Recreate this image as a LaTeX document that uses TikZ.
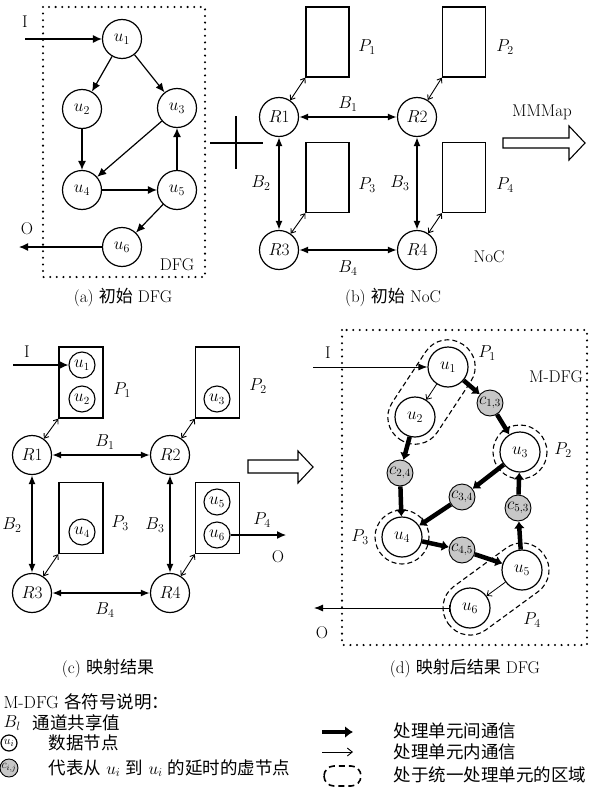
\documentclass[tikz,border=0pt]{standalone}
\usepackage{fontspec}
\newfontfamily\cjk{Noto Sans CJK SC}
\usetikzlibrary{arrows.meta,calc}
\begin{document}
\begin{tikzpicture}[x=1pt,y=-1pt,
  every node/.style={font=\fontsize{17}{19}\selectfont},
  big/.style={circle,draw,line width=1.2pt,minimum size=39pt,inner sep=0pt,font=\fontsize{18}{19}\selectfont},
  small/.style={circle,draw,line width=1.1pt,minimum size=26pt,inner sep=0pt,font=\fontsize{16}{17}\selectfont},
  vnode/.style={circle,draw,line width=0.9pt,fill=black!22,minimum size=26pt,inner sep=0pt,font=\fontsize{16}{17}\selectfont},
  pbox/.style={draw,line width=1.3pt,inner sep=0pt},
  farr/.style={line width=1.2pt,-{Latex[length=9pt,width=8pt]}},
  link/.style={line width=1.6pt,{Latex[length=9pt,width=7pt]}-{Latex[length=9pt,width=7pt]}},
  plink/.style={line width=0.9pt,{Straight Barb[length=4pt,width=6pt]}-{Straight Barb[length=4pt,width=6pt]}},
  dotbox/.style={line width=2.3pt,dash pattern=on 0pt off 6.6pt,line cap=round},
  bigarr/.style={line width=4.5pt,-{Latex[length=7pt,width=11pt]}},
  thinarr/.style={line width=0.8pt,-{Straight Barb[length=4pt,width=7pt]}},
  region/.style={line width=1.1pt,dash pattern=on 5pt off 3pt},
  hollow/.style={line width=1.1pt,fill=white},
  captext/.style={font=\fontsize{17}{19}\selectfont},
  leg/.style={anchor=west,font=\fontsize{17.5}{19}\selectfont}
]
\useasboundingbox (0,0) rectangle (604,792);
\fill[white] (0,0) rectangle (604,792);

% ---------------- (a) DFG
\draw[dotbox] (43,7) rectangle (205,277);
\node[big] (a1) at (122,39) {$u_1$};
\node[big] (a2) at (82,109) {$u_2$};
\node[big] (a3) at (177,108) {$u_3$};
\node[big] (a4) at (82,190) {$u_4$};
\node[big] (a5) at (177,190) {$u_5$};
\node[big] (a6) at (122,247) {$u_6$};
\coordinate (aI) at (25,39);
\coordinate (aO) at (19,247);
\node (aIl) at (25,22) {I};
\node (aOl) at (27,229) {O};
\node (aDFG) at (177,265) {DFG};
\draw[farr] (aI) -- (a1);
\draw[farr] (a1) -- (a2);
\draw[farr] (a1) -- (a3);
\draw[farr] (a2) -- (a4);
\draw[farr] (a3) -- (a4);
\draw[farr] (a4) -- (a5);
\draw[farr] (a5) -- (a3);
\draw[farr] (a5) -- (a6);
\draw[farr] (a6) -- (aO);
\node[captext] (capa) at (123,297) {(a) {\cjk 初始} DFG};

% cross
\coordinate (xl) at (210,143); \coordinate (xr) at (263,143);
\coordinate (xt) at (236,116); \coordinate (xb) at (236,169);
\draw[line width=1.3pt] (xl) -- (xr) (xt) -- (xb);

% ---------------- (b) NoC
\node[pbox,minimum width=43pt,minimum height=70pt] (bP1) at (327.5,42) {};
\node[pbox,minimum width=43pt,minimum height=70pt] (bP2) at (464,42) {};
\node[pbox,minimum width=43pt,minimum height=70pt] (bP3) at (327.5,177.5) {};
\node[pbox,minimum width=43pt,minimum height=70pt] (bP4) at (464,177.5) {};
\node[big] (bR1) at (279,117) {$R1$};
\node[big] (bR2) at (417,117) {$R2$};
\node[big] (bR3) at (279,250) {$R3$};
\node[big] (bR4) at (417,250) {$R4$};
\draw[link] (bR1) -- (bR2);
\draw[link] (bR1) -- (bR3);
\draw[link] (bR2) -- (bR4);
\draw[link] (bR3) -- (bR4);
\draw[plink] (bP1.south west) -- (bR1);
\draw[plink] (bP2.south west) -- (bR2);
\draw[plink] (bP3.south west) -- (bR3);
\draw[plink] (bP4.south west) -- (bR4);
\node (bl1) at (367,47) {$P_1$};
\node (bl2) at (505,47) {$P_2$};
\node (bl3) at (367,185) {$P_3$};
\node (bl4) at (505,185) {$P_4$};
\node (bB1) at (348,104) {$B_1$};
\node (bB2) at (261,183) {$B_2$};
\node (bB3) at (400,183) {$B_3$};
\node (bB4) at (348,268) {$B_4$};
\node (bNoC) at (489,257) {NoC};
\node (bMM) at (542,112) {MMMap};
\draw[hollow] (503,138) -- (569,138) -- (569,126) -- (585,143) -- (569,160) -- (569,148) -- (503,148) -- cycle;
\node[captext] (capb) at (393,297) {(b) {\cjk 初始} NoC};

% ---------------- (c) mapping
\node[pbox,minimum width=44pt,minimum height=71pt] (cP1) at (81,382.5) {};
\node[pbox,minimum width=44pt,minimum height=71pt] (cP2) at (217.5,382.5) {};
\node[pbox,minimum width=44pt,minimum height=71pt] (cP3) at (81,518) {};
\node[pbox,minimum width=44pt,minimum height=71pt] (cP4) at (217.5,518) {};
\node[small] (cu1) at (82,365) {$u_1$};
\node[small] (cu2) at (82,399) {$u_2$};
\node[small] (cu3) at (217,399) {$u_3$};
\node[small] (cu4) at (82,532) {$u_4$};
\node[small] (cu5) at (217,502) {$u_5$};
\node[small] (cu6) at (217,535) {$u_6$};
\node[big] (cR1) at (32,455) {$R1$};
\node[big] (cR2) at (170,455) {$R2$};
\node[big] (cR3) at (32,593) {$R3$};
\node[big] (cR4) at (170,593) {$R4$};
\draw[link] (cR1) -- (cR2);
\draw[link] (cR1) -- (cR3);
\draw[link] (cR2) -- (cR4);
\draw[link] (cR3) -- (cR4);
\draw[plink] (cP1.south west) -- (cR1);
\draw[plink] (cP2.south west) -- (cR2);
\draw[plink] (cP3.south west) -- (cR3);
\draw[plink] (cP4.south west) -- (cR4);
\coordinate (cI) at (13,365);
\coordinate (cO) at (286,535);
\draw[farr] (cI) -- (cu1);
\draw[farr] (cu6) -- (cO);
\node (cIl) at (27,352) {I};
\node (cOl) at (278,557) {O};
\node (cl1) at (122,390) {$P_1$};
\node (cl2) at (258,386) {$P_2$};
\node (cl3) at (120,523) {$P_3$};
\node (cl4) at (262,520) {$P_4$};
\node (cB1) at (105,442) {$B_1$};
\node (cB2) at (12,525) {$B_2$};
\node (cB3) at (155,525) {$B_3$};
\node (cB4) at (105,610) {$B_4$};
\draw[hollow] (248,460) -- (298,460) -- (298,451) -- (313,467) -- (298,483) -- (298,473) -- (248,473) -- cycle;
\node[captext] (capc) at (108,668) {(c) {\cjk 映射结果}};

% ---------------- (d) M-DFG
\draw[dotbox] (342,330) rectangle (587,645);
\begin{scope}[shift={(431.5,392)},rotate=56.6]
  \draw[region,rounded corners=26.5pt] (-57,-27) rectangle (57,27);
\end{scope}
\begin{scope}[shift={(496,589)},rotate=36.2]
  \draw[region,rounded corners=26.5pt] (-59,-27) rectangle (59,27);
\end{scope}
\node[big,minimum size=40pt] (du1) at (448,367) {$u_1$};
\node[big,minimum size=40pt] (du2) at (415,417) {$u_2$};
\node[big,minimum size=40pt] (du3) at (520,452) {$u_3$};
\node[big,minimum size=40pt] (du4) at (402,537) {$u_4$};
\node[big,minimum size=40pt] (du5) at (522,570) {$u_5$};
\node[big,minimum size=40pt] (du6) at (470,608) {$u_6$};
\draw[region] (du3.center) circle[radius=27];
\draw[region] (du4.center) circle[radius=27];
\node[vnode] (c13) at (490,403) {$c_{1,3}$};
\node[vnode] (c24) at (400,473) {$c_{2,4}$};
\node[vnode] (c34) at (462,497) {$c_{3,4}$};
\node[vnode] (c53) at (518,508) {$c_{5,3}$};
\node[vnode] (c45) at (462,550) {$c_{4,5}$};
\draw[bigarr] (du1) -- (c13);
\draw[bigarr] (c13) -- (du3);
\draw[bigarr] (du2) -- (c24);
\draw[bigarr] (c24) -- (du4);
\draw[bigarr] (du3) -- (c34);
\draw[bigarr] (c34) -- (du4);
\draw[bigarr] (du4) -- (c45);
\draw[bigarr] (c45) -- (du5);
\draw[bigarr] (du5) -- (c53);
\draw[bigarr] (c53) -- (du3);
\draw[thinarr] (du1) -- (du2);
\draw[thinarr] (du5) -- (du6);
\coordinate (dI) at (313,367);
\coordinate (dO) at (314,608);
\draw[line width=0.9pt,-{Latex[length=9pt,width=7pt]}] (dI) -- (du1);
\draw[line width=0.9pt,{Bar[width=7pt]}-{Latex[length=9pt,width=7pt]}] (du6) -- (dO);
\node (dIl) at (328,353) {I};
\node (dOl) at (322,633) {O};
\node (dl1) at (487,353) {$P_1$};
\node (dl2) at (563,450) {$P_2$};
\node (dl3) at (360,537) {$P_3$};
\node (dl4) at (532,620) {$P_4$};
\node (dMDFG) at (556,377) {M-DFG};
\node[captext] (capd) at (465,668) {(d) {\cjk 映射后结果} DFG};

% ---------------- legend
\node[leg] (lt) at (0,702) {M-DFG {\cjk 各符号说明：}};
\node[leg] (lB) at (0,723) {$B_l$};
\node[leg] (lBt) at (29,723) {\cjk 通道共享值};
\node[circle,draw,line width=1.2pt,minimum size=16pt,inner sep=0pt,font=\fontsize{13}{14}\selectfont] (lu) at (9,743) {$u_i$};
\node[leg] (lut) at (45,743) {\cjk 数据节点};
\node[circle,draw,line width=0.9pt,fill=black!22,minimum size=18pt,inner sep=0pt,font=\fontsize{12}{13}\selectfont] (lc) at (9,768) {$c_{i,j}$};
\node[leg] (lct) at (45,768) {{\cjk 代表从} $u_i$ {\cjk 到} $u_i$ {\cjk 的延时的虚节点}};
\coordinate (la1) at (322,732); \coordinate (la2) at (353,732);
\draw[line width=4.5pt,-{Latex[length=8pt,width=12pt]}] (la1) -- (la2);
\coordinate (lb1) at (322,752); \coordinate (lb2) at (353,752);
\draw[line width=0.9pt,-{Straight Barb[length=5pt,width=8pt]}] (lb1) -- (lb2);
\draw[line width=1.6pt,dash pattern=on 6pt off 4pt,rounded corners=10pt] (324,766) rectangle (361,786);
\node[leg] (lat) at (390,731) {\cjk 处理单元间通信};
\node[leg] (lbt) at (390,752) {\cjk 处理单元内通信};
\node[leg] (lrt) at (390,775) {\cjk 处于统一处理单元的区域};
\end{tikzpicture}
\end{document}
